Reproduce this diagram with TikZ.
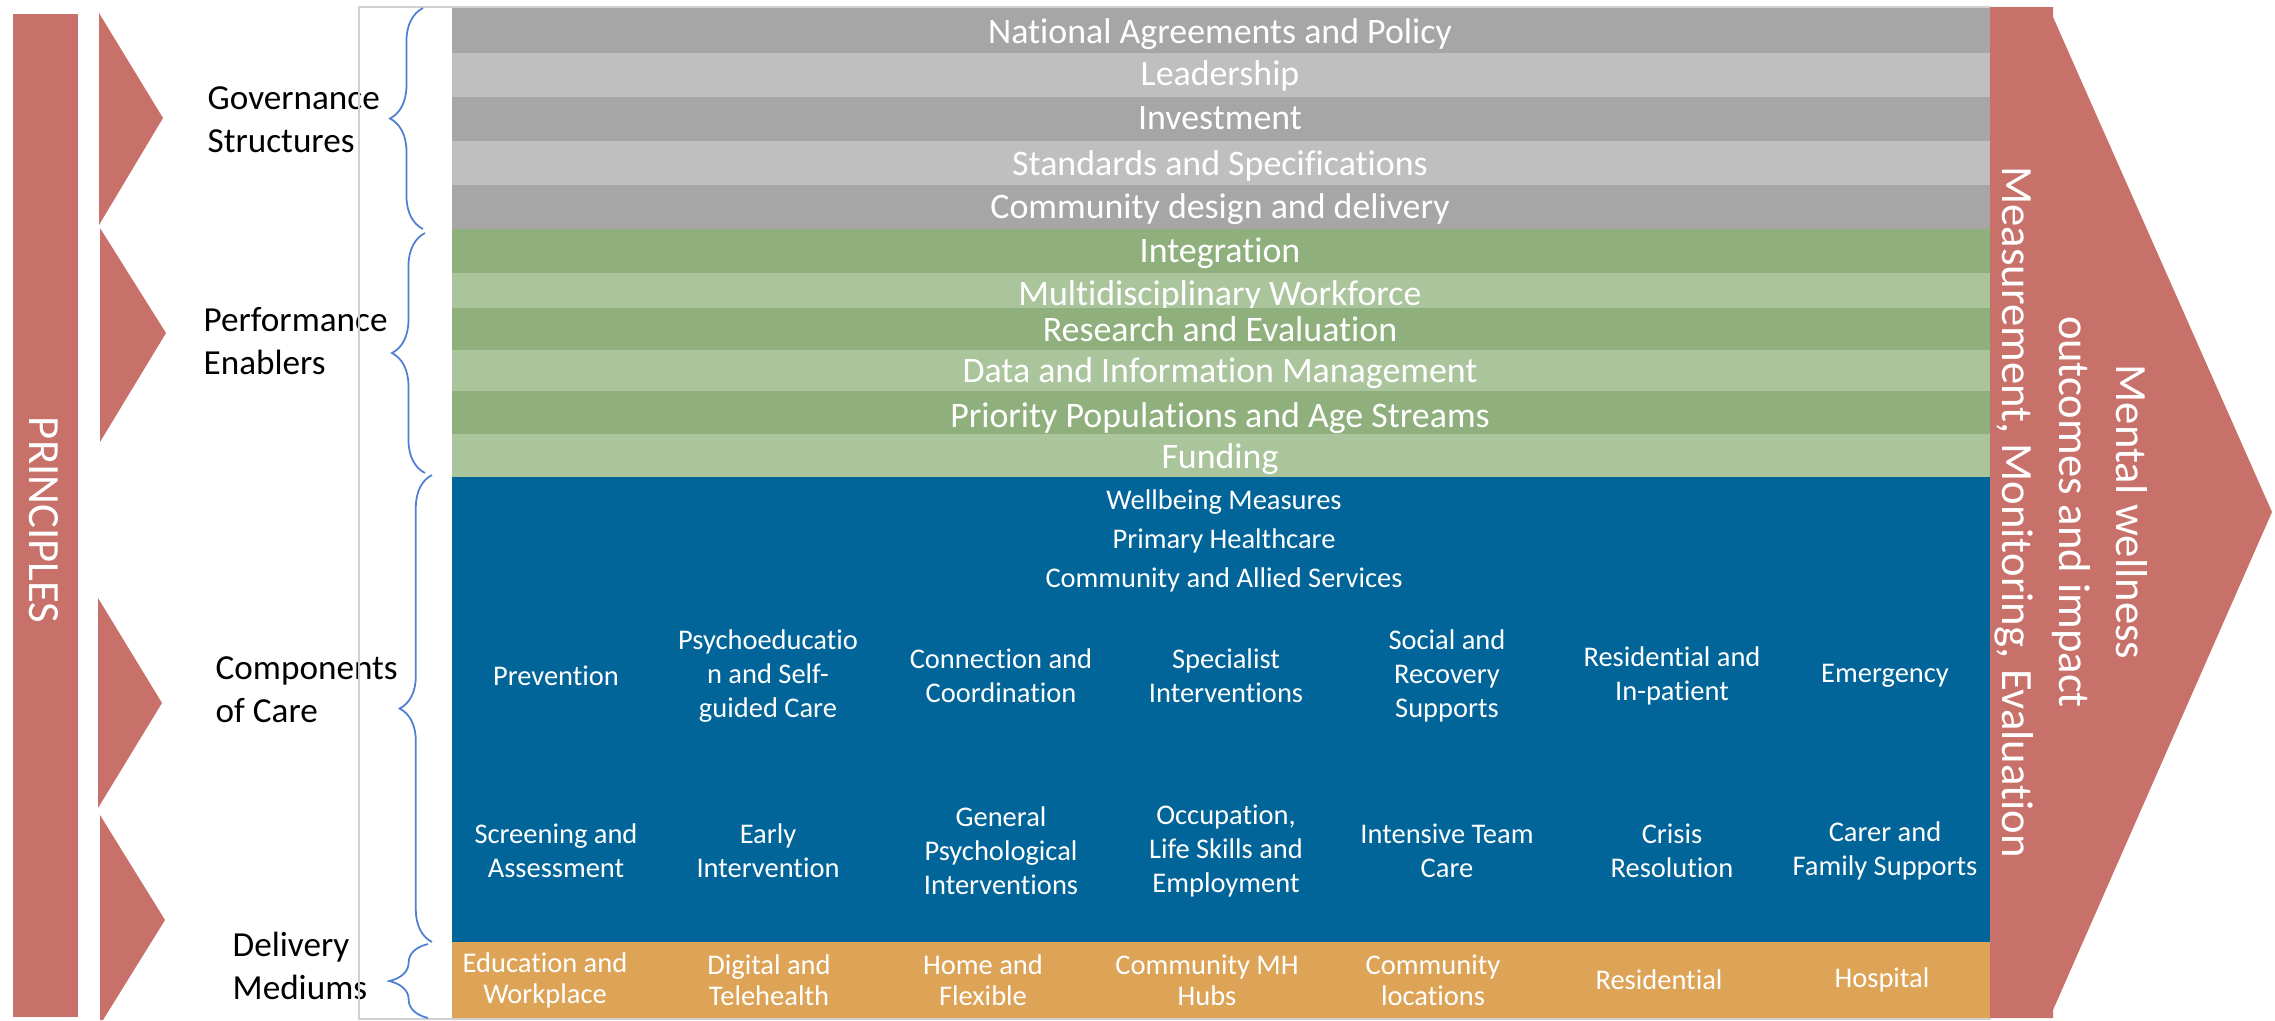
\documentclass[tikz,border=0pt]{standalone}
\usepackage{fontspec}
\setmainfont{Carlito}[Ligatures=NoCommon]
\usetikzlibrary{decorations.pathreplacing}

\definecolor{principle}{HTML}{C8706A}
\definecolor{greydark}{HTML}{A6A6A6}
\definecolor{greylight}{HTML}{BFBFBF}
\definecolor{greendark}{HTML}{8FB07C}
\definecolor{greenlight}{HTML}{AAC49C}
\definecolor{careblue}{HTML}{016599}
\definecolor{medorange}{HTML}{DDA457}
\definecolor{bracecol}{HTML}{4E7FD3}

\begin{document}
\begin{tikzpicture}[x=0.01cm, y=-0.01cm,
  lbl/.style={font=\fontsize{10}{12.2}\selectfont, align=left, anchor=west, inner sep=0pt},
  band/.style={font=\fontsize{10.2}{12}\selectfont, text=white, anchor=base, inner sep=0pt},
  cell/.style={font=\fontsize{8.1}{9.7}\selectfont, text=white, align=center, inner sep=0pt},
  medium/.style={font=\fontsize{8.1}{8.8}\selectfont, text=white, align=center, inner sep=0pt},
  grp/.style={draw=bracecol, line width=0.5pt, decorate, decoration={brace, amplitude=#1}},
  side/.style={font=\fontsize{12.7}{16.2}\selectfont, text=white, align=center, rotate=-90, inner sep=0pt}]
  \useasboundingbox (0,0) rectangle (2275,1020);

  % principles bar and the four chevrons
  \fill[principle] (13,14) rectangle (78,1017);
  \node[side] (principles) at (44,520) {PRINCIPLES};
  \fill[principle] (99,13) -- (163,118) -- (99,225) -- cycle;
  \fill[principle] (100,228) -- (166,333) -- (100,442) -- cycle;
  \fill[principle] (98,598) -- (162,703) -- (98,808) -- cycle;
  \fill[principle] (100,815) -- (165,920) -- (103,1020) -- (100,1020) -- cycle;

  % level names
  \node[lbl] (gov) at (207,120) {Governance\\Structures};
  \node[lbl] (perf) at (203,341) {Performance\\Enablers};
  \node[lbl] (comp) at (215,690) {Components\\of Care};
  \node[lbl] (deliv) at (232,966) {Delivery\\Mediums};

  % table frame
  \draw[black!18, line width=0.4pt] (359,7) rectangle (1990,1019);

  % governance and enabler rows
  \foreach \top/\bot/\col/\base/\nm/\txt in {
    8/53/greydark/43/nat/National Agreements and Policy,
    53/97/greylight/85/lead/Leadership,
    97/141/greydark/129/inv/Investment,
    141/185/greylight/175/std/Standards and Specifications,
    185/229/greydark/218/cdd/Community design and delivery,
    229/273/greendark/262/integ/Integration,
    273/308/greenlight/305/mdw/Multidisciplinary Workforce,
    308/350/greendark/341/res/Research and Evaluation,
    350/391/greenlight/382/data/Data and Information Management,
    391/434/greendark/427/prio/Priority Populations and Age Streams,
    434/477/greenlight/468/fund/Funding}
  {
    \fill[\col] (452,\top) rectangle (1990,\bot);
    \node[band] (\nm) at (1220,\base) {\txt};
  }

  % components of care
  \fill[careblue] (452,477) rectangle (1990,942);
  \foreach \base/\nm/\txt in {509/wbm/Wellbeing Measures, 548/phc/Primary Healthcare, 587/cas/Community and Allied Services}
    \node[cell, anchor=base] (\nm) at (1224,\base) {\txt};
  \foreach \x/\nm/\txt in {556/prev/Prevention, 768/psy/{Psychoeducatio\\n and Self-\\guided Care}, 1001/conn/{Connection and\\Coordination},
    1226/spec/{Specialist\\Interventions}, 1447/soc/{Social and\\Recovery\\Supports}, 1672/resid/{Residential and\\In-patient}, 1885/emerg/Emergency}
    \node[cell] (\nm) at (\x,676) {\txt};
  \foreach \x/\nm/\txt in {556/scr/{Screening and\\Assessment}, 768/early/{Early\\Intervention}, 1001/gen/{General\\Psychological\\Interventions},
    1226/occ/{Occupation,\\Life Skills and\\Employment}, 1447/itc/{Intensive Team\\Care}, 1672/crisis/{Crisis\\Resolution}, 1885/carer/{Carer and\\Family Supports}}
    \node[cell] (\nm) at (\x,851) {\txt};

  % delivery mediums
  \fill[medorange] (452,942) rectangle (1990,1018);
  \foreach \x/\nm/\txt in {545/edu/{Education and\\Workplace}, 769/dig/{Digital and\\Telehealth}, 983/home/{Home and\\Flexible}, 1207/hub/{Community MH\\Hubs},
    1433/loc/{Community\\locations}, 1659/rsd/Residential, 1882/hosp/Hospital}
    \node[medium] (\nm) at (\x,980) {\txt};

  % braces
  \draw[grp=9.4pt] (423,229) -- (423,8);
  \draw[grp=9.4pt] (425,473) -- (425,233);
  \draw[grp=9.2pt] (432,942) -- (432,475);
  \draw[grp=11pt] (428,1018) -- (428,944);

  % outcome arrow
  \fill[principle] (1990,7) -- (2053,7) -- (2053,17) -- (2272,512) -- (2053,1010) -- (2053,1018) -- (1990,1018) -- cycle;
  \node[side] (outcome) at (2071,512) {Mental wellness\\outcomes and impact\\Measurement, Monitoring, Evaluation};
\end{tikzpicture}
\end{document}
